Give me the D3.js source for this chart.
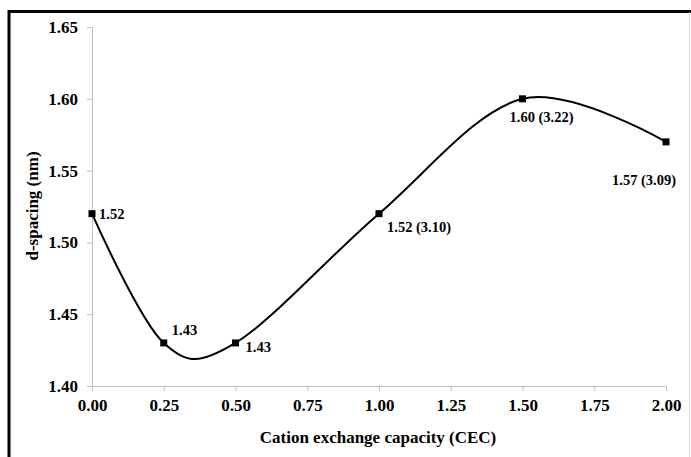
<!DOCTYPE html>
<html><head><meta charset="utf-8">
<script src="https://cdn.jsdelivr.net/npm/d3@7"></script>
<style>
html,body{margin:0;padding:0;background:#fff;}
svg{display:block;}
text{font-family:"Liberation Serif","Times New Roman",serif;font-weight:bold;fill:#000;}
</style></head>
<body>
<svg id="c" width="691" height="457"></svg>
<script>
const cec = [0.00, 0.25, 0.50, 1.00, 1.50, 2.00];
const dSpacing = [1.52, 1.43, 1.43, 1.52, 1.60, 1.57];
const pointLabels = ["1.52", "1.43", "1.43", "1.52 (3.10)", "1.60 (3.22)", "1.57 (3.09)"];
const xTicks = [0, 0.25, 0.5, 0.75, 1.0, 1.25, 1.5, 1.75, 2.0];
const yTicks = [1.40, 1.45, 1.50, 1.55, 1.60, 1.65];
const xTitle = "Cation exchange capacity (CEC)";
const yTitle = "d-spacing (nm)";

const svg = d3.select("#c");
// frame
svg.append("line").attr("x1",9).attr("x2",9).attr("y1",10).attr("y2",457).attr("stroke","#000").attr("stroke-width",3);
svg.append("line").attr("x1",8).attr("x2",691).attr("y1",11.5).attr("y2",11.5).attr("stroke","#000").attr("stroke-width",3);
svg.append("line").attr("x1",689.5).attr("x2",689.5).attr("y1",12).attr("y2",457).attr("stroke","#d8d8d8").attr("stroke-width",1);

const x = d3.scaleLinear().domain([0,2]).range([92,666]);
const y = d3.scaleLinear().domain([1.40,1.65]).range([386,27]);

const xAxis = svg.append("g").attr("transform","translate(0,386)")
  .call(d3.axisBottom(x).tickValues(xTicks).tickFormat(d3.format(".2f")).tickSize(5).tickPadding(8));
const yAxis = svg.append("g").attr("transform","translate(92,0)")
  .call(d3.axisLeft(y).tickValues(yTicks).tickFormat(d3.format(".2f")).tickSize(5).tickPadding(9));
[xAxis,yAxis].forEach(g=>{
  g.select(".domain").attr("stroke","#bdbdbd");
  g.selectAll(".tick line").attr("stroke","#bdbdbd");
  g.selectAll(".tick text").style("font-size","17px").style("font-family","Liberation Serif").style("font-weight","bold").attr("fill","#000");
});
xAxis.selectAll(".tick text").attr("dy","0.71em");

const pts = cec.map((c,i)=>({x:c,y:dSpacing[i],label:pointLabels[i]}));
const line = d3.line().x(d=>x(d.x)).y(d=>y(d.y)).curve(d3.curveCardinal.tension(0));
svg.append("path").datum(pts).attr("d",line).attr("fill","none").attr("stroke","#000").attr("stroke-width",2);

svg.selectAll("rect.m").data(pts).join("rect").attr("class","m")
  .attr("x",d=>x(d.x)-3.5).attr("y",d=>y(d.y)-3.5).attr("width",7).attr("height",7).attr("fill","#000");

const offs = [[7,5],[8,-8],[10,9],[8,18],[-13,23],[-54,43]];
svg.selectAll("text.lbl").data(pts).join("text").attr("class","lbl")
  .attr("x",(d,i)=>x(d.x)+offs[i][0]).attr("y",(d,i)=>y(d.y)+offs[i][1])
  .style("font-size","14.5px").text(d=>d.label);

svg.append("text").attr("x",378).attr("y",443).attr("text-anchor","middle").style("font-size","17px").text(xTitle);
svg.append("text").attr("transform","translate(38,206) rotate(-90)").attr("text-anchor","middle").style("font-size","17px").text(yTitle);
</script>
</body></html>
